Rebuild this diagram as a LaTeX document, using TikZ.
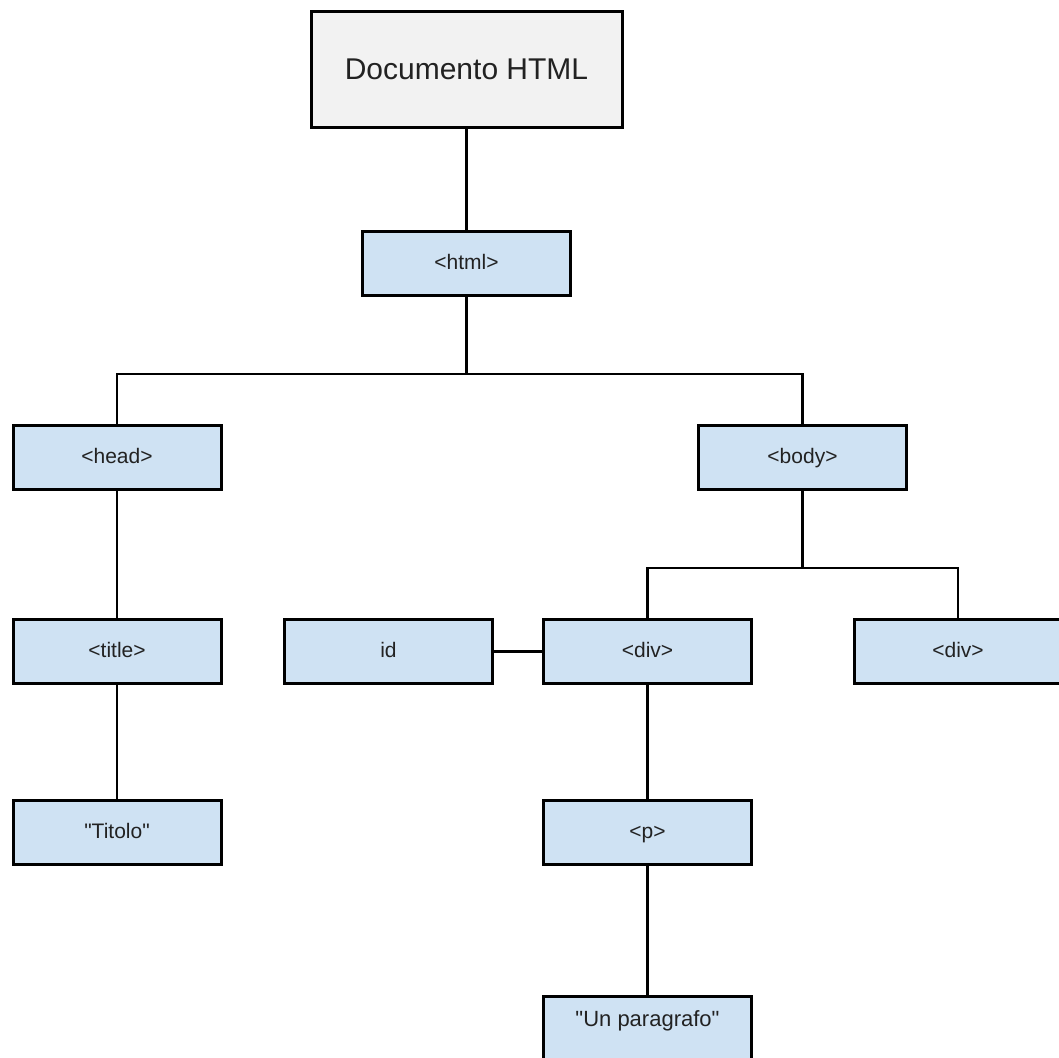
\documentclass[tikz,border=0pt]{standalone}
\usepackage{fontspec}
\setmainfont{Liberation Sans}[Ligatures=TeXOff]
\definecolor{boxblue}{HTML}{CFE2F3}
\definecolor{boxgray}{HTML}{F2F2F2}
\definecolor{txt}{HTML}{222222}
\tikzset{
  tagbox/.style={draw=black, line width=3pt, fill=boxblue, minimum width=208pt, minimum height=64pt, inner sep=0pt, text=txt, font=\fontsize{21}{25}\selectfont, text height=15pt, text depth=4pt},
  docbox/.style={draw=black, line width=3pt, fill=boxgray, minimum width=311pt, minimum height=115pt, inner sep=0pt, text=txt, font=\fontsize{30}{36}\selectfont},
  conn/.style={draw=black, line width=2.6pt},
  quotetxt/.style={text=txt, font=\fontsize{22}{26}\selectfont, inner sep=0pt}
}
\begin{document}
\begin{tikzpicture}[x=1pt,y=-1pt]
\clip (0,0) rectangle (1059,1057);
\fill[white] (0,0) rectangle (1059,1057);
% nodes
\node[docbox] (doc) at (466.5,69.5) {Documento HTML};
\node[tagbox] (html) at (466.5,263.5) {<html>};
\node[tagbox] (head) at (117,457.5) {<head>};
\node[tagbox] (body) at (802.5,457.5) {<body>};
\node[tagbox] (title) at (117,651.5) {<title>};
\node[tagbox] (id) at (388.5,651.5) {id};
\node[tagbox] (div1) at (647.5,651.5) {<div>};
\node[tagbox] (div2) at (958,651.5) {<div>};
\node[tagbox] (titolo) at (117,832.5) {"Titolo"};
\node[tagbox] (p) at (647.5,832.5) {<p>};
\node[tagbox, minimum height=80pt, anchor=north] (para) at (647.5,995) {};
\node[quotetxt] (paratxt) at (647.5,1021) {"Un paragrafo"};
% junctions
\coordinate (j1) at (466.5,374);
\coordinate (j2) at (802.5,568);
% connectors
\draw[conn] (doc.south) -- (html.north);
\draw[conn] (html.south) -- (j1);
\draw[conn] (head.north) |- (j1) -| (body.north);
\draw[conn] (head.south) -- (title.north);
\draw[conn] (title.south) -- (titolo.north);
\draw[conn] (body.south) -- (j2);
\draw[conn] (div1.north) |- (j2) -| (div2.north);
\draw[conn] (id.east) -- (div1.west);
\draw[conn] (div1.south) -- (p.north);
\draw[conn] (p.south) -- (para.north);
\end{tikzpicture}
\end{document}
